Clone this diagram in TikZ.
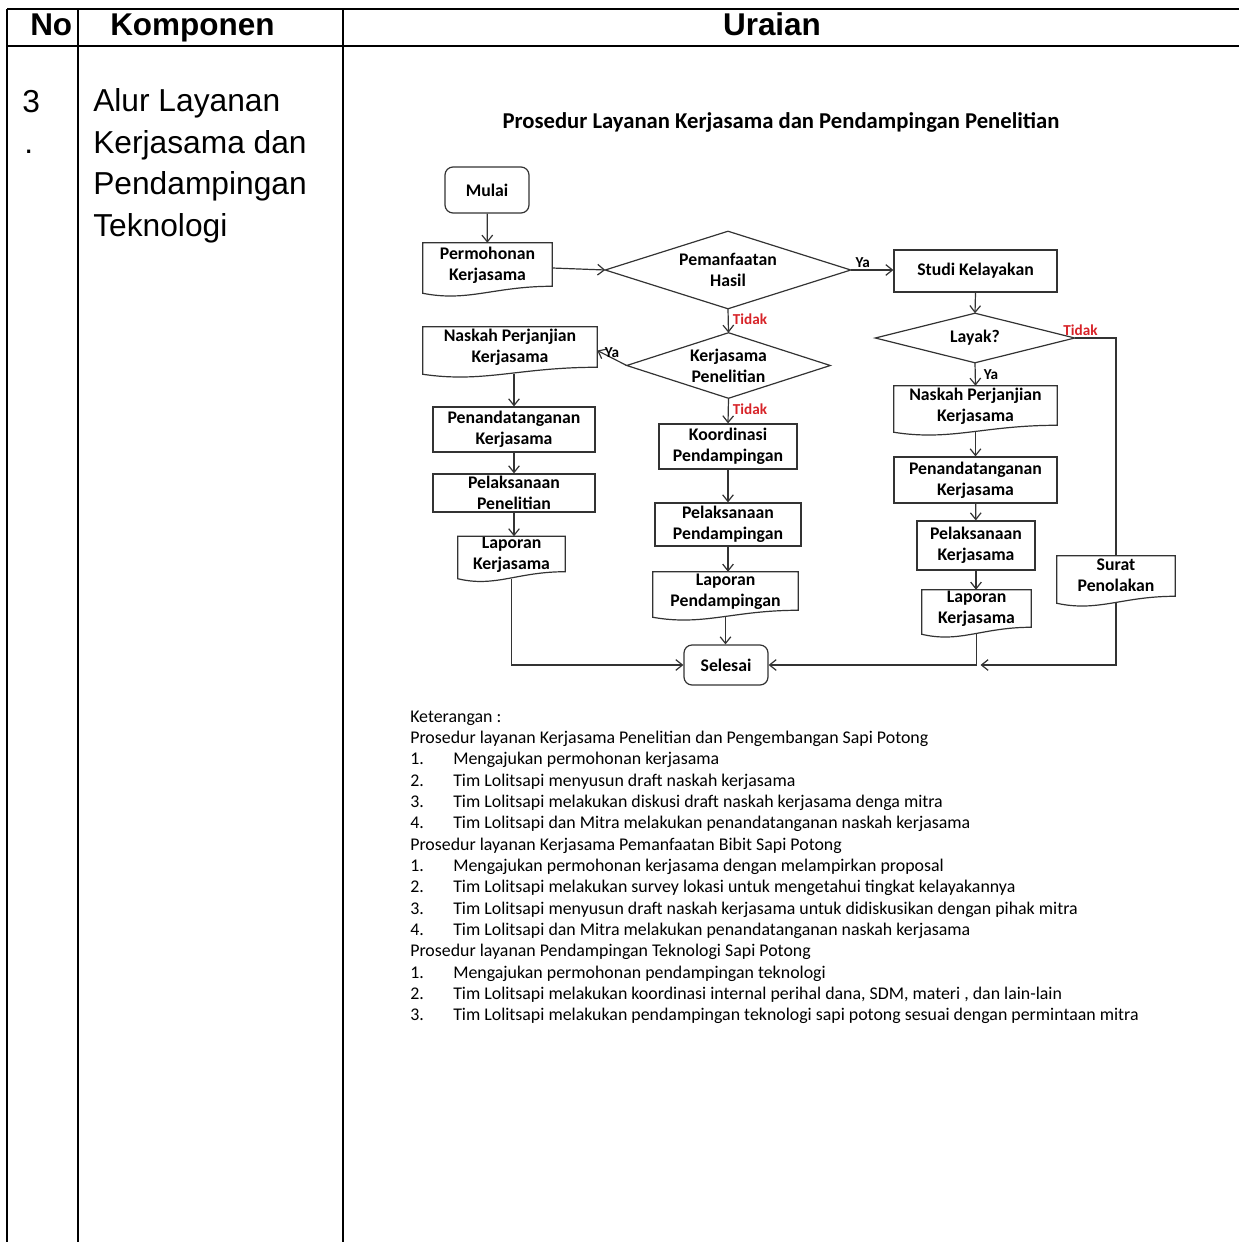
\documentclass[tikz,border=0pt]{standalone}
\usepackage{fontspec}
\setmainfont{Carlito}
\newfontfamily\arialf{Liberation Sans}
\usetikzlibrary{arrows.meta,calc}
\definecolor{tidakred}{RGB}{215,35,40}
\newcommand\docout[1]{%
  \draw[ln] (#1.south west) -- (#1.north west) -- (#1.north east) -- ($(#1.south east)+(0,-7)$)
    .. controls ($(#1.south east)!0.45!(#1.south west)+(0,-7)$) and ($(#1.south west)!0.35!(#1.south east)+(0,9)$) .. (#1.south west) -- cycle;}
\newcommand\diaout[1]{%
  \draw[ln] (#1.north) -- (#1.east) -- (#1.south) -- (#1.west) -- cycle;}
\begin{document}
\begin{tikzpicture}[x=0.75pt,y=-0.75pt,
  ln/.style={draw=black!80, line width=0.9pt},
  arr/.style={ln, -{Straight Barb[length=5pt,width=8pt]}},
  tbl/.style={draw=black, line width=2.2pt},
  sz/.style 2 args={minimum width=#1*0.75pt, minimum height=#2*0.75pt},
  base/.style={inner sep=0pt, align=center, font=\bfseries\fontsize{13.3}{15.8}\selectfont},
  proc/.style={base, draw=black!80, line width=0.9pt},
  term/.style={base, draw=black!80, line width=0.9pt, rounded corners=6pt},
  docn/.style={base, text depth=7pt},
  dia/.style={base},
  lbl/.style={inner sep=1pt, font=\bfseries\fontsize{11.4}{13}\selectfont},
  tdk/.style={lbl, text=tidakred},
  hdr/.style={inner sep=0pt, font=\arialf\bfseries\fontsize{23.6}{28}\selectfont},
  body/.style={inner sep=0pt, font=\arialf\fontsize{23.8}{31.1}\selectfont}
]
\useasboundingbox (0,0) rectangle (1239,1242);
% table
\draw[tbl] (7,9) -- (1239,9);
\draw[tbl] (7,46) -- (1239,46);
\draw[tbl] (7,9) -- (7,1242);
\draw[tbl] (78,9) -- (78,1242);
\draw[tbl] (343,9) -- (343,1242);
\node[hdr, anchor=base west] (hno) at (30,35) {No};
\node[hdr, anchor=base west] (hkomp) at (110,35) {Komponen};
\node[hdr, anchor=base] (hur) at (772,35) {Uraian};
\node[body, anchor=base west] (no3) at (22,112) {3};
\node[body, anchor=base west] (nodot) at (24,153) {.};
\node[body, anchor=base west, align=left] (komp) at (93,236) {Alur Layanan\\Kerjasama dan\\Pendampingan\\Teknologi};
% title
\node[inner sep=0pt, anchor=base, font=\bfseries\fontsize{17}{20}\selectfont] (title) at (781,128) {Prosedur Layanan Kerjasama dan Pendampingan Penelitian};
% nodes
\node[term, sz={84}{46}] (mulai) at (487,190) {Mulai};
\node[docn, sz={129}{50}] (perm) at (487.5,268) {Permohonan\\Kerjasama};
\node[dia, sz={245}{77}] (pem) at (728,270) {Pemanfaatan\\Hasil};
\node[proc, sz={163}{42}] (studi) at (975.5,271) {Studi Kelayakan};
\node[dia, sz={199}{49}] (layak) at (975,338) {Layak?};
\node[docn, sz={163}{46}] (nkR) at (975.5,409) {Naskah Perjanjian\\Kerjasama};
\node[proc, sz={163}{46}] (ptR) at (975.5,480) {Penandatanganan\\Kerjasama};
\node[proc, sz={118}{49}] (plR) at (976,545.5) {Pelaksanaan\\Kerjasama};
\node[docn, sz={109}{44}] (lkR) at (976.5,612) {Laporan\\Kerjasama};
\node[docn, sz={118}{47}] (surat) at (1116,579.5) {Surat\\Penolakan};
\node[dia, sz={203}{65}] (kp) at (728.5,365.5) {Kerjasama\\Penelitian};
\node[docn, sz={174}{47}] (nkL) at (510,350.5) {Naskah Perjanjian\\Kerjasama};
\node[proc, sz={162}{45}] (ptL) at (514,429.5) {Penandatanganan\\Kerjasama};
\node[proc, sz={162}{38}] (plL) at (514,493) {Pelaksanaan\\Penelitian};
\node[docn, sz={107}{41}] (lkL) at (511.5,557.5) {Laporan\\Kerjasama};
\node[proc, sz={138}{45}] (koord) at (728,446.5) {Koordinasi\\Pendampingan};
\node[proc, sz={146}{43}] (plP) at (728,524.5) {Pelaksanaan\\Pendampingan};
\node[docn, sz={145}{45}] (lapP) at (725.5,594.5) {Laporan\\Pendampingan};
\node[term, sz={84}{40}] (sel) at (726,665) {Selesai};
% outlines
\docout{perm}\docout{nkR}\docout{lkR}\docout{surat}\docout{nkL}\docout{lkL}\docout{lapP}
\diaout{pem}\diaout{layak}\diaout{kp}
% connectors
\draw[arr] (mulai) -- (perm);
\draw[arr] (perm.east) -- (pem.west);
\draw[arr] (pem.east) -- node[pos=.28, above=0pt, lbl] {Ya} (pem.east -| studi.west);
\draw[arr] (pem.south) -- node[pos=.45, right=2pt, tdk] {Tidak} (kp.north);
\draw[arr] (kp.west) -- node[midway, above=-1pt, lbl] {Ya} (nkL.east);
\draw[arr] (kp.south) -- node[pos=.45, right=2pt, tdk] {Tidak} (koord.north);
\draw[arr] (ptL.north |- nkL.south) -- (ptL.north);
\draw[arr] (ptL) -- (plL);
\draw[arr] (plL.south) -- (plL.south |- lkL.north);
\draw[arr] (lkL.south) -- (lkL.south |- sel.west) -- (sel.west);
\draw[arr] (koord) -- (plP);
\draw[arr] (plP.south) -- (plP.south |- lapP.north);
\draw[arr] (lapP.south) -- (lapP.south |- sel.north);
\draw[arr] (studi.south) -- (layak.north);
\draw[arr] (layak.south) -- node[midway, right=5pt, lbl] {Ya} (nkR.north);
\draw[arr] (nkR.south) -- (ptR.north);
\draw[arr] (ptR) -- (plR);
\draw[arr] (plR.south) -- (plR.south |- lkR.north);
\draw[arr] (lkR.south) -- (lkR.south |- sel.east) -- (sel.east);
\draw[ln] (layak.east) -| node[pos=.07, above=0pt, tdk] {Tidak} (surat.north);
\coordinate (mergeR) at ($(lkR.south |- sel.east)+(4,0)$);
\draw[arr] (surat.south) -- (surat.south |- sel.east) -- (mergeR);
% keterangan
\node[inner sep=0pt, anchor=base west, align=left, font=\fontsize{13.4}{16}\selectfont] (ket) at (410,1020.7) {%
Keterangan :\\
Prosedur layanan Kerjasama Penelitian dan Pengembangan Sapi Potong\\
\makebox[32.25pt][l]{1.}Mengajukan permohonan kerjasama\\
\makebox[32.25pt][l]{2.}Tim Lolitsapi menyusun draft  naskah kerjasama\\
\makebox[32.25pt][l]{3.}Tim Lolitsapi melakukan diskusi draft  naskah kerjasama denga mitra\\
\makebox[32.25pt][l]{4.}Tim Lolitsapi dan Mitra melakukan penandatanganan naskah kerjasama\\
Prosedur layanan Kerjasama Pemanfaatan Bibit Sapi Potong\\
\makebox[32.25pt][l]{1.}Mengajukan permohonan kerjasama dengan melampirkan proposal\\
\makebox[32.25pt][l]{2.}Tim Lolitsapi melakukan survey lokasi untuk mengetahui tingkat kelayakannya\\
\makebox[32.25pt][l]{3.}Tim Lolitsapi menyusun draft naskah kerjasama untuk didiskusikan dengan pihak mitra\\
\makebox[32.25pt][l]{4.}Tim Lolitsapi dan Mitra melakukan penandatanganan naskah kerjasama\\
Prosedur layanan Pendampingan Teknologi Sapi Potong\\
\makebox[32.25pt][l]{1.}Mengajukan permohonan pendampingan teknologi\\
\makebox[32.25pt][l]{2.}Tim Lolitsapi melakukan koordinasi internal perihal dana, SDM, materi , dan lain-lain\\
\makebox[32.25pt][l]{3.}Tim Lolitsapi melakukan pendampingan teknologi sapi potong sesuai dengan permintaan mitra};
\end{tikzpicture}
\end{document}
